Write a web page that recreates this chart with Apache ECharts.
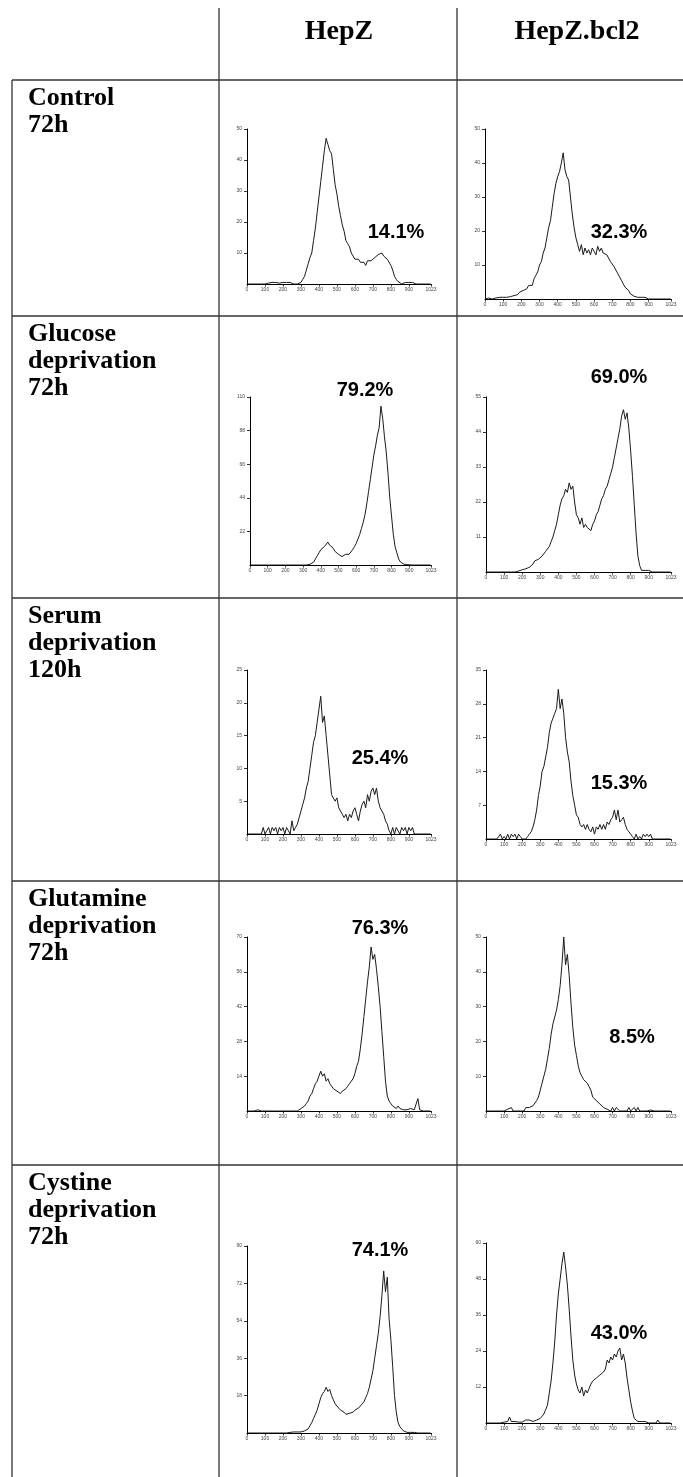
<!DOCTYPE html>
<html>
<head>
<meta charset="utf-8">
<script src="https://cdn.jsdelivr.net/npm/echarts@6/dist/echarts.min.js"></script>
<style>
  html, body { margin: 0; padding: 0; background: #fff; }
  #chart { width: 683px; height: 1477px; }
</style>
</head>
<body>
<div id="chart"></div>
<script>
// DNA-content histograms (channel 0..1023), one bin every 10 channels
const channels = Array.from({ length: 103 }, (_, i) => i * 10);
const xTickValues = [0, 100, 200, 300, 400, 500, 600, 700, 800, 900, 1023];

const columnTitles = ['HepZ', 'HepZ.bcl2'];
const rowTitles = [
  'Control\n72h',
  'Glucose\ndeprivation\n72h',
  'Serum\ndeprivation\n120h',
  'Glutamine\ndeprivation\n72h',
  'Cystine\ndeprivation\n72h'
];

// cell counts per bin
const ctrlHepZ = [
  0,0,0,0,0,0.5,0,0.5,0,0.5,
  0,0.5,0.3,0,0.5,0,0.5,0,0.3,0,
  0.5,0,0.5,0,0.5,0.3,0,0.5,0,0.5,
  0.5,1.5,2.5,4.5,6.5,8.5,10,14,18,23,
  28,33,38,43,47,45,43,42,37,32,
  29,25,22,19,17,14,13,12,10,9,
  8,7.5,8,7,6.5,7,6,7.5,7,7.5,
  8,8.5,8,9.5,9,10,9,9.5,8,8,
  6,4.5,2.5,1.5,0.8,0.5,0,0.3,0.5,0,
  0.5,0.3,0.5,0,0,0,0,0,0,0,
  0,0,0
];
const ctrlBcl2 = [
  0,0,0.3,0.5,0,0.5,0.3,0,0.5,0.3,
  0.5,0.3,0.5,0.5,0.7,1,1,1.5,1.3,2,
  2,2.5,2,3,4,4.5,4,6,7,8,
  10,11,13.5,15,18,21,23,27,31,34,
  36,37.5,40,43,38,36,35,30,25,21,
  18,16,14,16,13,15,13.5,14.5,13,15,
  14,13,15.5,14,15,13.5,14,13,12.5,11,
  10.5,9.5,8.5,7.5,6.5,5.5,4.5,3.5,3,2.5,
  1.5,1,0.8,0.5,0.5,0.3,0.5,0.3,0.5,0.3,
  0,0.3,0,0,0,0,0,0,0,0,
  0,0,0
];
const glcHepZ = [
  0,0,0,0,0,0,0,0,0,0,
  0,0,0,0,0,0,0,0,0,0,
  0,0,0,0,0,0,0,0,0,0,
  0,0,0,0,0.5,1,2,4,6,8,
  10,11,12,13,15,13,12,11,9,8,
  7,6,5.5,6,7,7.5,7,8,10,12,
  14,17,20,24,28,33,40,48,56,64,
  72,78,85,90,104,96,84,74,60,44,
  32,20,12,8,4,2,1,0.5,0.3,0.3,
  0.3,0,0,0,0,0,0,0,0,0,
  0,0,0
];
const glcBcl2 = [
  0,0,0,0,0,0,0,0,0,0,
  0,0,0,0,0,0,0,0.5,0.3,0.5,
  0.7,0.5,1,0.8,1.5,2,2.5,3.5,3,4,
  4.5,5,5.5,6.5,7,8,9.5,11,13,15,
  18,21,23,24,26,25,28,26,27,22,
  18,17,15,17,14,15,14,14.5,13,15,
  16,18,19,21,23,24,26,27,29,31,
  33,36,39,42,45,49,51,48,50,45,
  38,30,21,12,5,2,0.5,0.3,0.5,0.3,
  0.5,0.3,0,0,0,0,0,0,0,0,
  0,0,0
];
const serHepZ = [
  0,0,0,0,0,0,0,0,0,1,
  0,0.5,1,0,1,0.5,1,0,1,0.5,
  1,0,1,0.5,0,2,0.5,1,1.5,2.5,
  3.5,4.5,5.5,7,8,10,12,14,15,17,
  19,21,17,18,15,12,9,6,6,5,
  5.5,4,3.5,3,2.5,3,2,3,2.5,3.5,
  4,3,2,3.5,4.5,5,4,6,5,6.5,
  7,6,7,5,4,4,3,2,1.5,0.5,
  0,1,0,1,0.5,0,1,0.5,1,0,
  1,0.5,1,0,0,0,0,0,0,0,
  0,0,0
];
const serBcl2 = [
  0,0,0,0,0,0,0,0,1,0,
  0.5,0,1,0,1,0.5,1,0,1,0.5,
  0,0,0,0.5,1,1.5,2.5,4,6,9,
  11,14,15,17,19,22,24,25,26,27,
  31,27,29,26,21,18,16,12,9,7,
  5,4.5,3,2.5,3,2,3,2,1.5,2.5,
  1,2.5,2,3,2,3,2,3.5,3,4,
  4.5,6,4,6,3.5,4,4.5,3,2,1.5,
  1,0.5,0,1,0,0.5,0,1,0.5,1,
  0.5,1,0,0,0,0,0,0,0,0,
  0,0,0
];
const glnHepZ = [
  0,0,0,0,0,0,0.5,0,0,0,
  0,0,0,0.3,0,0.5,0,0,0,0.5,
  0,0.5,0,0.5,0,0.5,0,0.5,0,0.5,
  1,1.5,2,3,4,6,7,9,11,12,
  14,16,14,15,12,13,11,10,9,8.5,
  8,7.5,7,8,8,9,10,11,12,13,
  15,18,20,25,31,38,45,52,58,66,
  61,63,57,50,42,32,22,12,6,4,
  3,2,2.5,1,2,1,1.5,0.5,1,0.5,
  0.5,1,0.5,0.5,1,5,0.5,0,0,0,
  0,0,0
];
const glnBcl2 = [
  0,0,0,0,0,0,0,0,0,0,
  0,0,0.5,0,1,0,0.5,0,0,0,
  0.5,0,1,0.5,1,1,1.5,2,3,4,
  6,8,10,12,15,18,22,25,27,29,
  32,36,42,50,42,45,39,31,24,19,
  16,13,11,10,9,9,8,7,6,4,
  4,3,2.5,2,1.5,1,1,0.5,0.5,0,
  1,0,1,0.5,0,0.5,0,0.5,0,1,
  0,0.5,1,0,1,0,0,0,0,0,
  0.5,0.3,0.5,0,0,0,0,0,0,0,
  0,0,0
];
const cysHepZ = [
  0,0,0,0,0,0,0,0,0,0,
  0,0,0,0,0,0.3,0,0.3,0,0.3,
  0,0.3,0,0.3,0.3,0,0.5,0.3,0.5,0.5,
  0.5,1,1,1.5,2,3.5,5,7,9,11,
  14,17,19,20,22,20,21,18,16,14,
  13,12,11,10.5,10,9,9,9.5,10,10,
  11,11.5,12,13,14,15,17,19,22,26,
  30,36,42,48,56,66,78,68,75,55,
  45,32,18,10,5,3,2,1,0.5,0.3,
  0.5,0.3,0.5,0.3,0,0,0,0,0,0,
  0,0,0
];
const cysBcl2 = [
  0,0,0,0,0,0,0,0,0,0,
  0.3,0,0.5,2,0.5,1,0.5,0.5,0.3,0.5,
  0.3,0.5,1,0.5,1,1,0.5,1,1,1,
  1.5,2,3,4.5,6,10,14,20,27,36,
  43,48,53,57,52,46,38,29,21,16,
  13,11,10,12,9,11,10,10,13,14,
  14,15,15,16,16,17,18,21,20,22,
  21,23,22,24,25,21,23,20,15,11,
  7,4,1.5,1,0.5,0.3,0.5,0,0.5,0.3,
  0,0,0,0,0,1,0,0,0,0,
  0,0,0
];

const panelSeries = [ctrlHepZ, ctrlBcl2, glcHepZ, glcBcl2, serHepZ, serBcl2, glnHepZ, glnBcl2, cysHepZ, cysBcl2];
const yMax  = [50, 50, 110, 55, 25, 35, 70, 50, 90, 60];
const yStep = [10, 10, 22, 11, 5, 7, 14, 10, 18, 12];
const percentLabels = ['14.1%', '32.3%', '79.2%', '69.0%', '25.4%', '15.3%', '76.3%', '8.5%', '74.1%', '43.0%'];

// ---- layout (pixels) ----
const plotRects = [            // [left, top, right, bottom]
  [247, 129, 431, 284], [485, 129, 671, 299],
  [250, 397, 431, 565], [486, 397, 671, 572],
  [247, 670, 431, 834], [486, 670, 671, 839],
  [247, 937, 431, 1111], [486, 937, 671, 1111],
  [247, 1246, 431, 1433], [486, 1243, 671, 1423]
];
const percentPos = [
  [396, 232], [619, 232],
  [365, 390], [619, 377],
  [380, 758], [619, 783],
  [380, 928], [632, 1037],
  [380, 1250], [619, 1333]
];
const rowLineY = [80, 316, 598, 881, 1165];
const colLineX = [219, 457];
const leftEdgeX = 12;
const headerCenters = [[339, 32], [577, 32]];

const chart = echarts.init(document.getElementById('chart'), null, { renderer: 'canvas' });

const labelFont = { fontSize: 5, color: '#444', fontFamily: 'Liberation Sans', formatter: v => String(v) };

const grid = [], xAxis = [], yAxis = [], series = [];
plotRects.forEach((r, i) => {
  grid.push({ left: r[0], top: r[1], width: r[2] - r[0], height: r[3] - r[1],
              containLabel: false, outerBoundsMode: 'none' });
  xAxis.push({
    gridIndex: i, type: 'value', min: 0, max: 1023,
    axisLine: { show: true, onZero: false, lineStyle: { color: '#000', width: 1 } },
    axisTick: { show: true, customValues: xTickValues, length: 2.5, lineStyle: { color: '#000', width: 0.8 } },
    axisLabel: Object.assign({ customValues: xTickValues, margin: 3 }, labelFont),
    splitLine: { show: false }
  });
  yAxis.push({
    gridIndex: i, type: 'value', min: 0, max: yMax[i], interval: yStep[i],
    axisLine: { show: true, lineStyle: { color: '#000', width: 1 } },
    axisTick: { show: true, length: 3, lineStyle: { color: '#000', width: 0.8 } },
    axisLabel: Object.assign({ showMinLabel: false, margin: 5 }, labelFont),
    splitLine: { show: false }
  });
  series.push({
    type: 'line', xAxisIndex: i, yAxisIndex: i,
    data: panelSeries[i].map((v, k) => [channels[k], v]),
    symbol: 'none', showSymbol: false, silent: true,
    lineStyle: { color: '#1a1a1a', width: 1 }
  });
});

// table rules, headers, row titles, percentages
const graphic = [];
const ruleStyle = { stroke: '#333', lineWidth: 1.3 };
colLineX.forEach(x => graphic.push({ type: 'line', shape: { x1: x, y1: 8, x2: x, y2: 1477 }, style: ruleStyle, silent: true }));
graphic.push({ type: 'line', shape: { x1: leftEdgeX, y1: rowLineY[0], x2: leftEdgeX, y2: 1477 }, style: ruleStyle, silent: true });
rowLineY.forEach(y => graphic.push({ type: 'line', shape: { x1: leftEdgeX, y1: y, x2: 683, y2: y }, style: ruleStyle, silent: true }));

columnTitles.forEach((t, i) => graphic.push({
  type: 'text', x: headerCenters[i][0], y: headerCenters[i][1], silent: true,
  style: { text: t, font: 'bold 28px "Liberation Serif"', fill: '#000',
           align: 'center', verticalAlign: 'middle', textAlign: 'center', textVerticalAlign: 'middle' }
}));
rowTitles.forEach((t, i) => graphic.push({
  type: 'text', x: 28, y: rowLineY[i] + 5, silent: true,
  style: { text: t, font: 'bold 26px "Liberation Serif"', lineHeight: 27, fill: '#000',
           align: 'left', verticalAlign: 'top', textAlign: 'left', textVerticalAlign: 'top' }
}));
percentLabels.forEach((t, i) => graphic.push({
  type: 'text', x: percentPos[i][0], y: percentPos[i][1], silent: true,
  style: { text: t, font: 'bold 20px "Liberation Sans"', fill: '#000',
           align: 'center', verticalAlign: 'middle', textAlign: 'center', textVerticalAlign: 'middle' }
}));

chart.setOption({
  animation: false,
  backgroundColor: '#fff',
  grid, xAxis, yAxis, series, graphic
});
</script>
</body>
</html>
